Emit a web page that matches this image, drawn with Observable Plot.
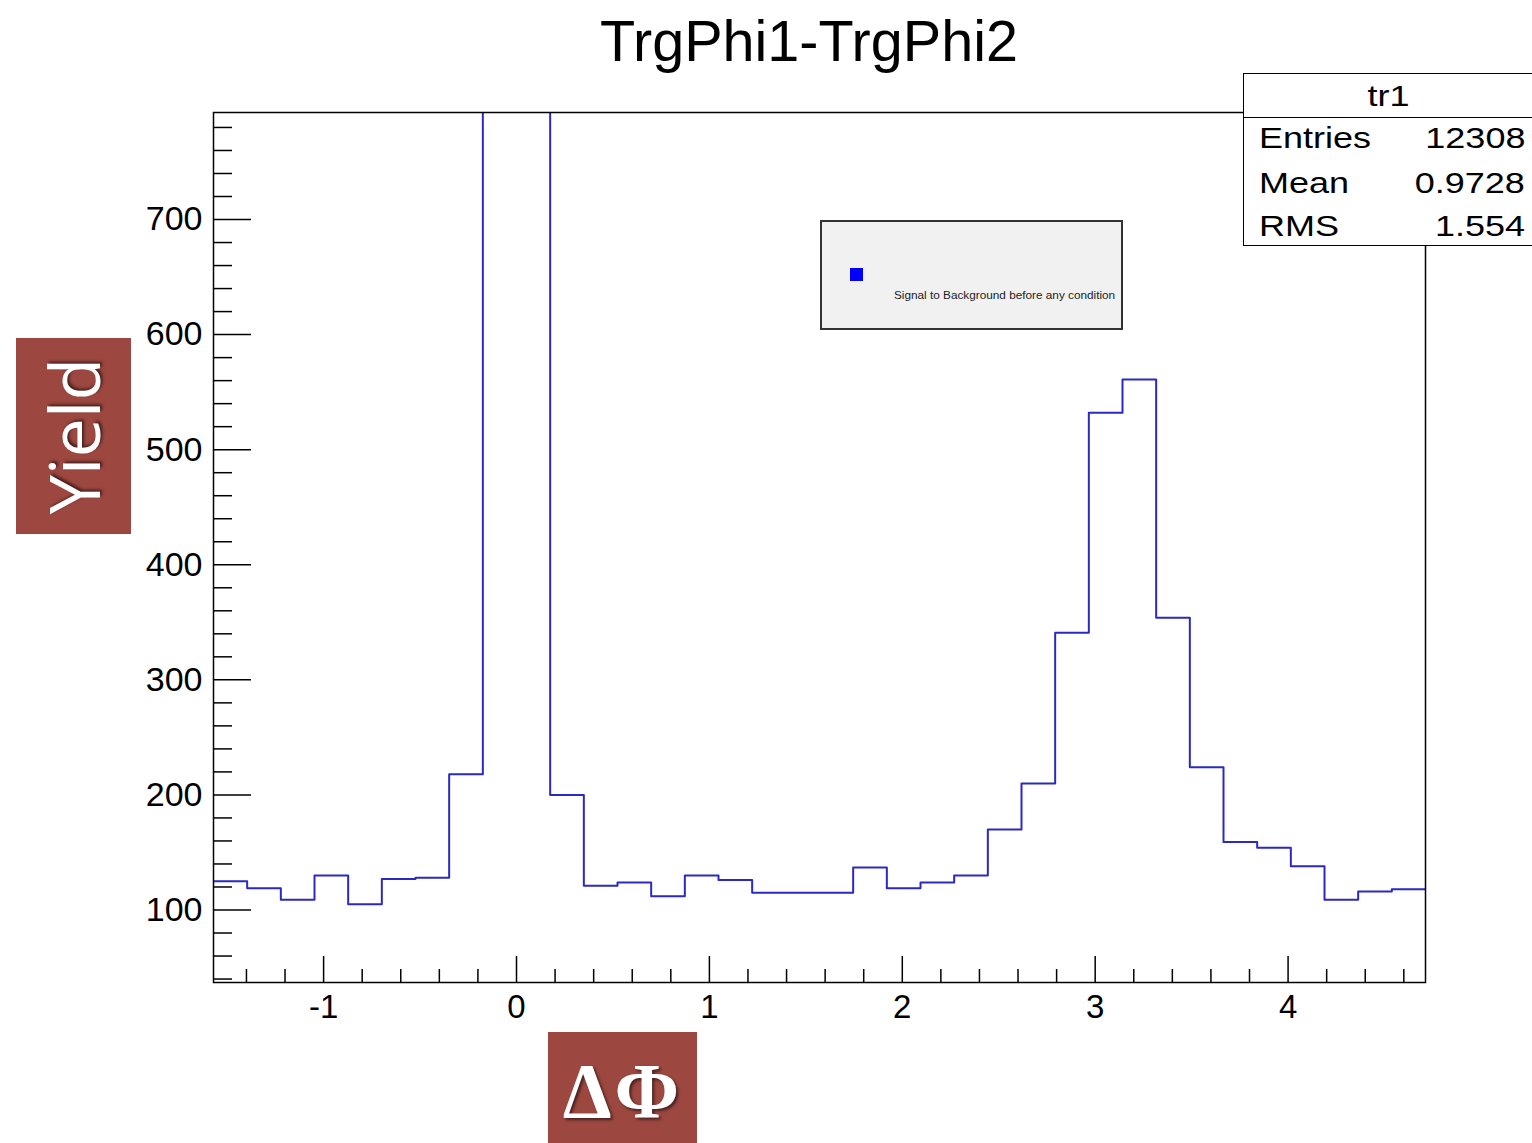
<!DOCTYPE html>
<html>
<head>
<meta charset="utf-8">
<script src="https://cdn.jsdelivr.net/npm/d3@7"></script>
<script src="https://cdn.jsdelivr.net/npm/@observablehq/plot@0.6"></script>
<style>
  html, body { margin: 0; padding: 0; background: #fff; overflow: hidden; }
  #wrap { position: relative; width: 1532px; height: 1143px; font-family: "Liberation Sans", Arial, Helvetica, sans-serif; }
  #chart { position: absolute; left: 0; top: 0; }
  .abs { position: absolute; }
  #title { left: 0; width: 1618px; top: 6px; text-align: center; font-size: 57px; color: #000; line-height: 70px; }
  #title span { display: inline-block; transform: scaleX(1.01); }
  #stats { left: 1243px; top: 73px; width: 320px; height: 173px; border: 1.5px solid #000; background: #fff; box-sizing: border-box; }
  #stats .hdr { position: absolute; left: 0; top: 0; width: 289px; height: 43px; border-bottom: 1.5px solid #000; text-align: center; }
  .st { position: absolute; font-size: 30px; line-height: 30px; white-space: nowrap; }
  .stl { transform: scaleX(1.2); transform-origin: left center; }
  .str { transform: scaleX(1.2); transform-origin: right center; }
  #legend { left: 820px; top: 220px; width: 303px; height: 110px; border: 2px solid #333; background: #f1f1f1; box-sizing: border-box; }
  #legend .sq { position: absolute; left: 28px; top: 46px; width: 13px; height: 13px; background: #0000ff; }
  #legend .lt { position: absolute; left: 72px; top: 67px; font-size: 11px; line-height: 12px; color: #222; white-space: nowrap; transform: scaleX(1.07); transform-origin: left center; }
  .badge { background: #9c4740; color: #fff; text-shadow: 2px 2px 3px rgba(0,0,0,0.55); }
  #ylab { left: 16px; top: 338px; width: 115px; height: 196px; }
  #ylab span { position: absolute; left: 57px; top: 98px; transform: translate(-50%, -50%) rotate(-90deg); font-family: "Open Sans", Lato, sans-serif; font-size: 70px; line-height: 70px; white-space: nowrap; }
  #xlab { left: 548px; top: 1032px; width: 149px; height: 111px; }
  #xlab span { position: absolute; left: 0; width: 149px; top: 20px; text-align: center; font-family: "Liberation Serif", "DejaVu Serif", serif; font-weight: bold; font-size: 78px; line-height: 78px; letter-spacing: 3px; }
</style>
</head>
<body>
<div id="wrap">
  <div id="chart"></div>
  <div id="title" class="abs"><span></span></div>
  <div id="stats" class="abs"></div>
  <div id="legend" class="abs"><div class="sq"></div><div class="lt"></div></div>
  <div id="ylab" class="abs badge"><span></span></div>
  <div id="xlab" class="abs badge"><span></span></div>
</div>
<script>
// ---- Data ----
const titleText = "TrgPhi1-TrgPhi2";
const histName = "tr1";
const statLabels = ["Entries", "Mean", "RMS"];
const statValues = ["12308", "0.9728", "1.554"];
const legendText = "Signal to Background before any condition";
const yLabelText = "Yield";
const xLabelText = "ΔΦ";

// Histogram definition: 36 bins from -pi/2 to 3pi/2
const nBins = 36;
const xMin = -Math.PI / 2;
const xMax = 3 * Math.PI / 2;
// Bin contents (bins 9 and 10 go off the top of the frame)
const counts = [125, 119, 109, 130, 105, 127, 128, 218, 3215, 3215,
                200, 121, 124, 112, 130, 126, 115, 115, 115, 137,
                119, 124, 130, 170, 210, 341, 532, 561, 354, 224,
                159, 154, 138, 109, 116, 118];

const yDomain = [37, 793];
const xMajorTicks = [-1, 0, 1, 2, 3, 4];
const xMinorTicks = [-1.4, -1.2, -0.8, -0.6, -0.4, -0.2, 0.2, 0.4, 0.6, 0.8,
                     1.2, 1.4, 1.6, 1.8, 2.2, 2.4, 2.6, 2.8, 3.2, 3.4, 3.6, 3.8,
                     4.2, 4.4, 4.6];
const yMajorTicks = [100, 200, 300, 400, 500, 600, 700];
const yMinorTicks = [40, 60, 80, 120, 140, 160, 180, 220, 240, 260, 280,
                     320, 340, 360, 380, 420, 440, 460, 480, 520, 540, 560, 580,
                     620, 640, 660, 680, 720, 740, 760, 780];

// Build step points: each bin low edge, plus final edge repeating last value
const binWidth = (xMax - xMin) / nBins;
const steps = counts.map((c, i) => ({x: xMin + i * binWidth, y: c}));
steps.push({x: xMax, y: counts[counts.length - 1]});

const W = 1532, H = 1143;
const mL = 213, mR = 107, mT = 112, mB = 161;
const frameW = W - mL - mR, frameH = H - mT - mB;

const plot = Plot.plot({
  width: W,
  height: H,
  marginLeft: mL,
  marginRight: mR,
  marginTop: mT,
  marginBottom: mB,
  style: {background: "transparent", fontFamily: "'Liberation Sans', Arial, Helvetica, sans-serif", color: "#000"},
  x: {domain: [xMin, xMax]},
  y: {domain: yDomain},
  marks: [
    Plot.line(steps, {x: "x", y: "y", curve: "step-after", stroke: "#2a2ac2", strokeWidth: 2, clip: true}),
    Plot.tickY(yMajorTicks, {y: d => d, stroke: "#000", strokeWidth: 1.5, insetRight: frameW - 38}),
    Plot.tickY(yMinorTicks, {y: d => d, stroke: "#000", strokeWidth: 1.5, insetRight: frameW - 19}),
    Plot.tickX(xMajorTicks, {x: d => d, stroke: "#000", strokeWidth: 1.5, insetTop: frameH - 26}),
    Plot.tickX(xMinorTicks, {x: d => d, stroke: "#000", strokeWidth: 1.5, insetTop: frameH - 13}),
    Plot.axisX({ticks: xMajorTicks, tickSize: 0, tickPadding: 12, fontSize: 33, label: null, tickFormat: d => String(d)}),
    Plot.axisY({ticks: yMajorTicks, tickSize: 0, tickPadding: 11, fontSize: 34, label: null, tickFormat: d => String(d)}),
    Plot.frame({stroke: "#000", strokeWidth: 1.5})
  ]
});
document.getElementById("chart").appendChild(plot);

// ---- Overlays ----
document.querySelector("#title span").textContent = titleText;

const stats = document.getElementById("stats");
const hdr = document.createElement("div");
hdr.className = "hdr";
const hs = document.createElement("div");
hs.className = "st";
hs.style.left = "0"; hs.style.width = "289px"; hs.style.top = "7px"; hs.style.textAlign = "center";
hs.innerHTML = `<span style="display:inline-block;transform:scaleX(1.2)">${histName}</span>`;
hdr.appendChild(hs);
stats.appendChild(hdr);
const rowTops = [49, 94, 137];
statLabels.forEach((lab, i) => {
  const l = document.createElement("div");
  l.className = "st stl";
  l.style.left = "15px"; l.style.top = rowTops[i] + "px";
  l.textContent = lab;
  stats.appendChild(l);
  const v = document.createElement("div");
  v.className = "st str";
  v.style.right = (320 - 283) + "px"; v.style.top = rowTops[i] + "px";
  v.textContent = statValues[i];
  stats.appendChild(v);
});

document.querySelector("#legend .lt").textContent = legendText;
document.querySelector("#ylab span").textContent = yLabelText;
document.querySelector("#xlab span").textContent = xLabelText;
</script>
</body>
</html>
